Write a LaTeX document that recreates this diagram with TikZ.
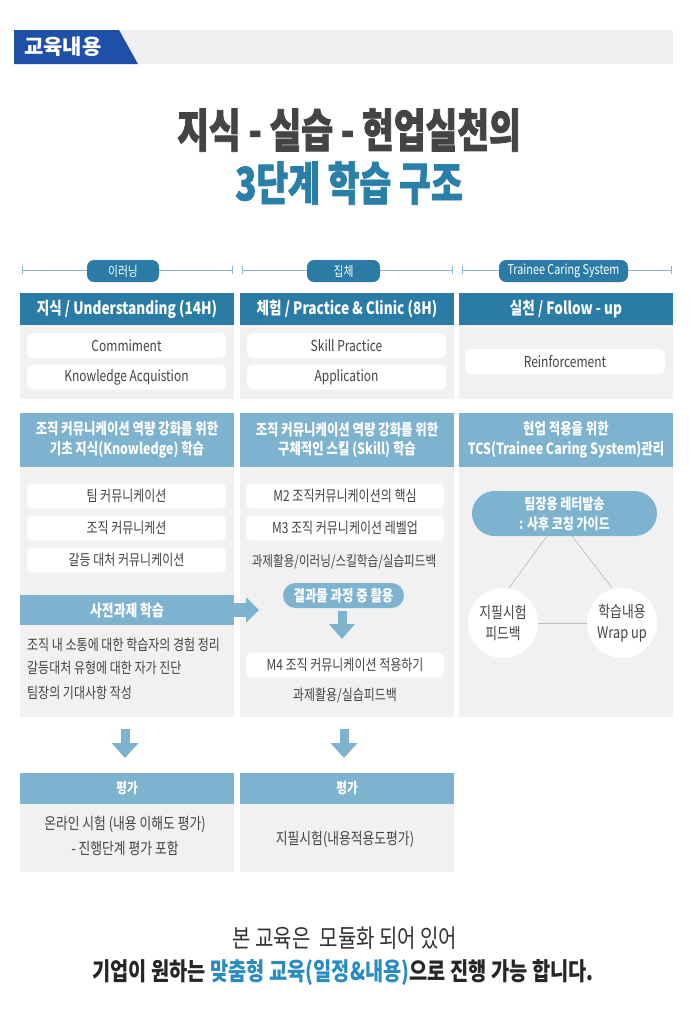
\documentclass[tikz,border=0pt]{standalone}
\usepackage{fontspec}
\setmainfont{Noto Sans CJK KR}[FakeStretch=0.8]
\newfontfamily\krwide{Noto Sans CJK KR}
\newfontfamily\krtitle{Noto Sans CJK KR}[FakeStretch=0.75, BoldFeatures={FakeBold=1.6}]
\usetikzlibrary{arrows.meta}
\definecolor{dteal}{HTML}{2A7CA6}
\definecolor{lblue}{HTML}{7DB3CF}
\definecolor{bgray}{HTML}{F1F1F1}
\definecolor{band}{HTML}{F0F0F0}
\definecolor{txt}{HTML}{444444}
\definecolor{ttldark}{HTML}{444444}
\definecolor{ttlblue}{HTML}{2A7FA9}
\definecolor{tagblue}{HTML}{1F50A8}
\definecolor{lineblue}{HTML}{8AB6CE}
\definecolor{accent}{HTML}{2A8BBF}
\newcommand\fsz[2]{\fontsize{#1}{#2}\selectfont}
\tikzset{
  hdr/.style={fill=dteal, text=white, font=\fsz{17}{20}\bfseries, minimum width=214, minimum height=32, inner sep=0},
  sub/.style={fill=lblue, text=white, font=\fsz{15.5}{19.5}\bfseries, align=center, minimum width=214, inner sep=0},
  panel/.style={fill=bgray, minimum width=214, inner sep=0},
  wbox/.style={fill=white, rounded corners=6, minimum width=199, minimum height=25, inner sep=0, font=\fsz{15}{17}, text=txt},
  plain/.style={font=\fsz{15}{17}, text=txt, inner sep=0},
  pill/.style={fill=dteal, text=white, rounded corners=7, minimum height=22, inner sep=0, font=\fsz{13.5}{15}},
  rule/.style={draw=lineblue, line width=0.8},
  downarr/.style={draw=lblue, line width=9, -{Triangle[length=15pt,width=26pt]}},
  rightarr/.style={draw=lblue, line width=14, -{Triangle[length=13pt,width=25pt]}},
  tri/.style={draw=black!25, line width=0.7},
  circ/.style={circle, fill=white, minimum size=70, inner sep=0},
  circtxt/.style={font=\fsz{16}{21}, text=txt, align=center}
}
\begin{document}
\begin{tikzpicture}[x=1pt,y=-1pt]
\useasboundingbox (0,0) rectangle (700,1013);
\fill[white] (0,0) rectangle (700,1013);

% top tag band
\node[fill=band, minimum width=659, minimum height=34, inner sep=0] (bandbox) at (343.5,47) {};
\fill[tagblue] (14,30) -- (119,30) -- (138,64) -- (14,64) -- cycle;
\node[text=white, font=\krwide\fsz{21}{24}\bfseries] (tagtxt) at (63,47) {교육내용};

% title
\node[font=\krtitle\fsz{46}{52}\bfseries, text=ttldark] (t1) at (349,130) {지식 - 실습 - 현업실천의};
\node[font=\krtitle\fsz{46}{52}\bfseries, text=ttlblue] (t2) at (349,183) {3단계 학습 구조};

% section rules
\coordinate (s1l) at (22,270); \coordinate (s1r) at (232,270);
\coordinate (s2l) at (242,270); \coordinate (s2r) at (452,270);
\coordinate (s3l) at (462,270); \coordinate (s3r) at (671,270);
\draw[rule] (s1l) -- (s1r);
\draw[rule] (s2l) -- (s2r);
\draw[rule] (s3l) -- (s3r);
\draw[rule] ([yshift=4]s1l) -- ([yshift=-4]s1l);
\draw[rule] ([yshift=4]s1r) -- ([yshift=-4]s1r);
\draw[rule] ([yshift=4]s2l) -- ([yshift=-4]s2l);
\draw[rule] ([yshift=4]s2r) -- ([yshift=-4]s2r);
\draw[rule] ([yshift=4]s3l) -- ([yshift=-4]s3l);
\draw[rule] ([yshift=4]s3r) -- ([yshift=-4]s3r);
\node[pill, minimum width=72] (p1) at (123,271) {이러닝};
\node[pill, minimum width=73] (p2) at (343.5,271) {집체};
\node[pill, minimum width=129] (p3) at (563.5,271) {Trainee Caring System};

% column headers
\node[hdr] (h1) at (127,309) {지식 / Understanding (14H)};
\node[hdr] (h2) at (347,309) {체험 / Practice \& Clinic (8H)};
\node[hdr] (h3) at (566,309) {실천 / Follow - up};
\node[panel, minimum height=74] (b1) at (127,362) {};
\node[panel, minimum height=74] (b2) at (347,362) {};
\node[panel, minimum height=74] (b3) at (566,362) {};
\node[wbox] (w11) at (126.5,345.5) {Commiment};
\node[wbox] (w12) at (126.5,377) {Knowledge Acquistion};
\node[wbox] (w21) at (346.5,345.5) {Skill Practice};
\node[wbox] (w22) at (346.5,377) {Application};
\node[wbox, minimum width=200] (w31) at (565,361.5) {Reinforcement};

% second section
\node[sub, minimum height=54] (k1) at (127,440) {조직 커뮤니케이션 역량 강화를 위한\\기초 지식(Knowledge) 학습};
\node[sub, minimum height=54] (k2) at (347,440) {조직 커뮤니케이션 역량 강화를 위한\\구체적인 스킬 (Skill) 학습};
\node[sub, minimum height=54] (k3) at (566,440) {현업 적용을 위한\\TCS(Trainee Caring System)관리};
\node[panel, minimum height=250] (c1) at (127,592) {};
\node[panel, minimum height=250] (c2) at (347,592) {};
\node[panel, minimum height=250] (c3) at (566,592) {};

% column 1 content
\node[wbox] (m11) at (126.5,496) {팀 커뮤니케이션};
\node[wbox] (m12) at (126.5,528) {조직 커뮤니케션};
\node[wbox] (m13) at (126.5,560) {갈등 대처 커뮤니케이션};
\node[sub, minimum height=30, font=\fsz{16}{18}\bfseries] (pre) at (127,610) {사전과제 학습};
\node[plain, anchor=west] (l1) at (27,645) {조직 내 소통에 대한 학습자의 경험 정리};
\node[plain, anchor=west] (l2) at (27,668) {갈등대처 유형에 대한 자가 진단};
\node[plain, anchor=west] (l3) at (27,693) {팀장의 기대사항 작성};
\coordinate (arrR) at (259,610);
\draw[rightarr] (pre.east) -- (arrR);

% column 2 content
\node[wbox, minimum width=198] (m21) at (345,496) {M2 조직커뮤니케이션의 핵심};
\node[wbox, minimum width=198] (m22) at (345,528) {M3 조직 커뮤니케이션 레벨업};
\node[plain, font=\fsz{14.5}{17}] (m23) at (344,562) {과제활용/이러닝/스킬학습/실습피드백};
\node[fill=lblue, text=white, rounded corners=12.5, minimum width=121, minimum height=25, inner sep=0, font=\fsz{15.5}{18}\bfseries] (res) at (343.5,595.5) {결과물 과정 중 활용};
\coordinate (resB) at (342,611);
\coordinate (resE) at (342,639);
\draw[downarr, -{Triangle[length=15pt,width=25pt]}] (resB) -- (resE);
\node[wbox, minimum width=198] (m24) at (345,665) {M4 조직 커뮤니케이션 적용하기};
\node[plain] (m25) at (345,696) {과제활용/실습피드백};

% column 3 content
\coordinate (q1) at (547,536); \coordinate (q2) at (509,588);
\coordinate (q3) at (572,536); \coordinate (q4) at (612,588);
\draw[tri] (q1) -- (q2);
\draw[tri] (q3) -- (q4);
\node[fill=lblue, text=white, rounded corners=22.5, minimum width=185, minimum height=45, inner sep=0, align=center, font=\fsz{15}{20}\bfseries] (letter) at (564.5,513.5) {팀장용 레터발송\\: 사후 코칭 가이드};
\node[circ] (cl) at (503,623) {};
\node[circ] (cr) at (622,623) {};
\draw[tri] (cl.east) -- (cr.west);
\node[circtxt] (cltxt) at (cl) {지필시험\\피드백};
\node[circtxt] (crtxt) at (cr) {학습내용\\Wrap up};

% evaluation
\coordinate (a1s) at (125,729); \coordinate (a1e) at (125,758);
\coordinate (a2s) at (344,729); \coordinate (a2e) at (344,758);
\draw[downarr] (a1s) -- (a1e);
\draw[downarr] (a2s) -- (a2e);
\node[sub, minimum height=31, font=\fsz{14.5}{17}\bfseries] (e1) at (127,788.5) {평가};
\node[sub, minimum height=31, font=\fsz{14.5}{17}\bfseries] (e2) at (347,788.5) {평가};
\node[panel, minimum height=68] (f1) at (127,838) {};
\node[panel, minimum height=68] (f2) at (347,838) {};
\node[plain, font=\fsz{16}{18}] (g1) at (125,824) {온라인 시험 (내용 이해도 평가)};
\node[plain, font=\fsz{16}{18}] (g2) at (125,848) {- 진행단계 평가 포함};
\node[plain, font=\fsz{16}{18}] (g3) at (345,839) {지필시험(내용적용도평가)};

% closing text
\node[font=\fsz{25}{30}, text=black!80] (z1) at (345,938) {본 교육은\ \ 모듈화 되어 있어};
\node[font=\fsz{24.7}{30}\bfseries, text=black!85] (z2) at (343,973) {기업이 원하는 \textcolor{accent}{맞춤형 교육(일정\&내용)}으로 진행 가능 합니다.};
\end{tikzpicture}
\end{document}
